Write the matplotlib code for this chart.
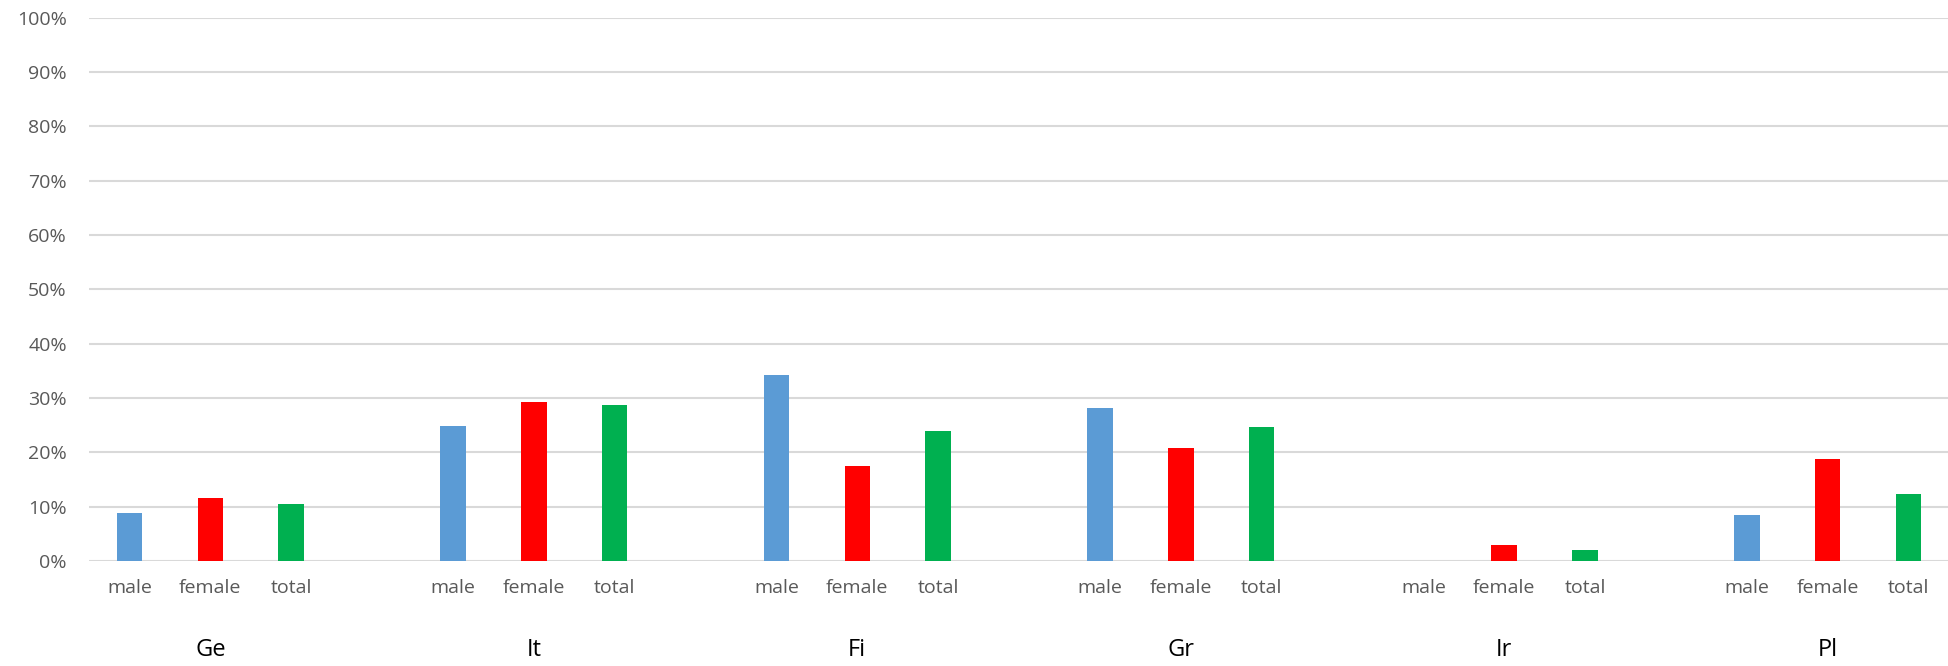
import matplotlib
matplotlib.use("Agg")
from matplotlib import pyplot as plt
import matplotlib.transforms as mtransforms
from matplotlib.ticker import PercentFormatter

# data
groups = ["Ge", "It", "Fi", "Gr", "Ir", "Pl"]
subcats = ["male", "female", "total"]
male = [0.088, 0.249, 0.343, 0.282, 0.0, 0.085]
female = [0.115, 0.292, 0.174, 0.207, 0.029, 0.187]
total = [0.104, 0.287, 0.239, 0.246, 0.020, 0.123]
yticks = [0.0, 0.1, 0.2, 0.3, 0.4, 0.5, 0.6, 0.7, 0.8, 0.9, 1.0]

colors = {"male": "#5B9BD5", "female": "#FF0000", "total": "#00B050"}
series = {"male": male, "female": female, "total": total}

plt.rcParams['font.family'] = ['Open Sans', 'DejaVu Sans']

fig = plt.figure(figsize=(19.49, 6.66), dpi=100)
ax = fig.add_axes([0.0457, 0.1577, 0.9543, 0.816])

# each group takes 3 slots plus one empty slot between groups
bar_w = 0.316
xticks = []
xlabels = []
for gi, g in enumerate(groups):
    for si, s in enumerate(subcats):
        x = gi * 4 + si
        ax.bar(x, series[s][gi], width=bar_w, color=colors[s], zorder=3)
        xticks.append(x)
        xlabels.append(s)

ax.set_xlim(-0.5, 22.5)
ax.set_ylim(0, 1.0)
ax.set_yticks(yticks)
ax.yaxis.set_major_formatter(PercentFormatter(1.0, decimals=0))
ax.set_xticks(xticks)
ax.set_xticklabels(xlabels)

ax.tick_params(axis='y', length=0, pad=16, labelsize=14, labelcolor='#595959')
ax.tick_params(axis='x', length=0, pad=13, labelsize=14, labelcolor='#595959')

ax.grid(axis='y', color='#D9D9D9', linewidth=1.5, zorder=0)
ax.set_axisbelow(True)
for sp in ax.spines.values():
    sp.set_visible(False)

# group names below the sub-category labels
trans = mtransforms.blended_transform_factory(ax.transData, fig.transFigure)
for gi, g in enumerate(groups):
    ax.text(gi * 4 + 1, 1 - 650 / 666, g, transform=trans, ha='center', va='center',
            fontsize=17, color='black')

fig.savefig("out.png", dpi=100)
